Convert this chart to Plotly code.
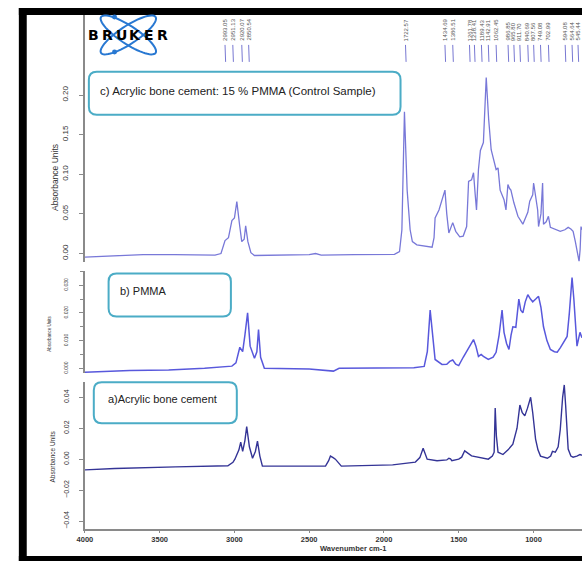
import numpy as np
import plotly.graph_objects as go

W, H = 582, 562

# ---------------- data ----------------
wn_c = [4000, 3800, 3611, 3400, 3130, 3090, 3063, 3040, 3017, 3000, 2984, 2965, 2951, 2935, 2925,
        2910, 2890, 2866, 2700, 2500, 2457, 2420, 2200, 2008, 1930, 1896, 1880, 1863, 1845, 1825,
        1810, 1780, 1700, 1678, 1665, 1658, 1632, 1600, 1592, 1580, 1566, 1540, 1520, 1493, 1470,
        1447, 1434, 1414, 1401, 1390, 1381, 1368, 1355, 1335, 1322, 1316, 1300, 1283, 1250, 1237,
        1223, 1197, 1184, 1171, 1160, 1151, 1131, 1104, 1071, 1038, 1025, 1005, 999, 985, 972,
        966, 950, 939, 933, 915, 900, 887, 850, 821, 790, 768, 750, 735, 720, 709, 695, 688, 682, 676]
abs_c = [-0.0046, -0.003, -0.0013, -0.0015, -0.002, 0.000, 0.0164, 0.020, 0.0416, 0.045, 0.0655,
         0.035, 0.015, 0.018, 0.035, 0.015, 0.001, -0.0025, -0.002, -0.0015, 0.000, -0.002, -0.0015,
         -0.0013, -0.001, 0.0025, 0.03, 0.179, 0.08, 0.03, 0.015, 0.011, 0.009, 0.008, 0.02, 0.045,
         0.055, 0.078, 0.080, 0.05, 0.026, 0.039, 0.028, 0.021, 0.022, 0.034, 0.091, 0.093, 0.102,
         0.075, 0.055, 0.106, 0.130, 0.140, 0.200, 0.222, 0.17, 0.131, 0.106, 0.108, 0.080, 0.068,
         0.055, 0.087, 0.082, 0.080, 0.064, 0.047, 0.037, 0.052, 0.066, 0.074, 0.089, 0.07, 0.055,
         0.034, 0.05, 0.089, 0.037, 0.04, 0.047, 0.033, 0.03, 0.028, 0.03, 0.033, 0.031, 0.028,
         0.015, 0.003, -0.01, 0.005, 0.034, 0.03]

wn_b = [4000, 3900, 3700, 3440, 3200, 3017, 2990, 2964, 2945, 2930, 2912, 2895, 2866, 2850, 2839,
        2825, 2800, 2500, 2338, 2300, 1942, 1800, 1731, 1710, 1691, 1675, 1658, 1612, 1580, 1560,
        1540, 1520, 1500, 1470, 1434, 1401, 1385, 1368, 1350, 1335, 1302, 1270, 1250, 1230, 1210,
        1197, 1180, 1164, 1150, 1138, 1118, 1098, 1085, 1071, 1055, 1038, 1020, 1005, 985, 966,
        950, 933, 910, 887, 860, 841, 820, 808, 775, 760, 742, 730, 709, 689, 676]
abs_b = [-0.0014, -0.0012, -0.0008, -0.0006, 0.0, 0.0008, 0.002, 0.0076, 0.006, 0.012, 0.020,
         0.008, 0.0036, 0.006, 0.014, 0.004, 0.0, -0.0002, -0.001, 0.0, 0.0, 0.0002, 0.0007, 0.006,
         0.021, 0.012, 0.0032, 0.0014, 0.0015, 0.0025, 0.003, 0.0015, 0.001, 0.004, 0.0076, 0.0104,
         0.008, 0.0043, 0.005, 0.0043, 0.0032, 0.004, 0.0058, 0.012, 0.021, 0.013, 0.009, 0.0068,
         0.012, 0.015, 0.0148, 0.025, 0.021, 0.020, 0.024, 0.0266, 0.025, 0.024, 0.025, 0.026,
         0.022, 0.015, 0.01, 0.0068, 0.006, 0.0058, 0.0075, 0.0086, 0.0115, 0.02, 0.0328, 0.025,
         0.008, 0.013, 0.011]

wn_a = [4000, 3800, 3393, 3200, 3044, 3010, 2997, 2970, 2958, 2945, 2930, 2918, 2900, 2879, 2860,
        2846, 2830, 2813, 2600, 2391, 2370, 2358, 2340, 2325, 2285, 2100, 1942, 1790, 1760, 1738,
        1725, 1711, 1645, 1580, 1566, 1555, 1546, 1500, 1480, 1460, 1414, 1350, 1302, 1275, 1263,
        1256, 1248, 1237, 1204, 1170, 1138, 1110, 1091, 1075, 1058, 1040, 1019, 1005, 986, 970,
        953, 907, 885, 873, 854, 835, 821, 805, 794, 785, 768, 750, 735, 710, 689, 676]
abs_a = [-0.0069, -0.006, -0.005, -0.0045, -0.0043, -0.002, 0.0, 0.006, 0.011, 0.005, 0.012, 0.021,
         0.008, 0.0006, 0.005, 0.0116, 0.002, -0.0045, -0.0043, -0.0045, -0.001, 0.002, 0.001, 0.0,
         -0.0045, -0.004, -0.0037, -0.0019, 0.001, 0.0071, 0.003, 0.0, -0.001, -0.0005, 0.0006,
         0.0002, -0.001, 0.0, 0.0013, 0.0054, 0.0021, 0.001, 0.0, 0.002, 0.0045, 0.033, 0.015,
         0.0045, 0.003, 0.006, 0.0097, 0.02, 0.035, 0.030, 0.028, 0.033, 0.040, 0.03, 0.013, 0.006,
         0.002, 0.0006, 0.002, 0.005, 0.0045, 0.008, 0.019, 0.04, 0.048, 0.035, 0.0065, 0.002,
         0.0013, 0.002, 0.003, 0.0025]

x_ticks = [4000, 3500, 3000, 2500, 2000, 1500, 1000]
peak_labels = ["2993.05", "2951.13", "2920.07", "2850.54", "1722.57", "1434.69", "1386.51",
               "1261.78", "1238.41", "1189.43", "1142.91", "1062.45", "986.85", "965.80",
               "911.70", "840.69", "807.56", "749.08", "702.99", "594.08", "564.64", "545.44"]
# where each peak label sits along the drawn axis
peak_label_x = [3063, 3011, 2951, 2905, 1856, 1592, 1540, 1428, 1395, 1348, 1302, 1250,
                1170, 1131, 1091, 1038, 999, 953, 900, 788, 742, 702]

title_c = "c) Acrylic bone cement: 15 % PMMA (Control Sample)"
title_b = "b) PMMA"
title_a = "a)Acrylic bone cement"


# ---------------- helpers ----------------
def px(x):
    return x / W


def py(y):
    return 1 - y / H


def rounded_box(x0, y0, x1, y1, r):
    pts = [("M", x0 + r, y0), ("L", x1 - r, y0), ("Q", x1, y0, x1, y0 + r), ("L", x1, y1 - r),
           ("Q", x1, y1, x1 - r, y1), ("L", x0 + r, y1), ("Q", x0, y1, x0, y1 - r),
           ("L", x0, y0 + r), ("Q", x0, y0, x0 + r, y0)]
    s = ""
    for p in pts:
        cmd = p[0]
        coords = p[1:]
        parts = []
        for i in range(0, len(coords), 2):
            parts.append(f"{px(coords[i]):.5f},{py(coords[i+1]):.5f}")
        s += cmd + " " + " ".join(parts) + " "
    return s + "Z"


def ellipse_path(cx, cy, a, b, ang):
    t = np.linspace(0, 2 * np.pi, 60)
    ca, sa = np.cos(np.radians(ang)), np.sin(np.radians(ang))
    xs = cx + a * np.cos(t) * ca - b * np.sin(t) * sa
    ys = cy + a * np.cos(t) * sa + b * np.sin(t) * ca
    s = "M " + " L ".join(f"{px(x):.5f},{py(y):.5f}" for x, y in zip(xs, ys)) + " Z"
    return s


# pixel calibration of the bottom axis
x_left_px = 78
per_px = 500 / 75.8
x_right_val = 4000 - (W - x_left_px) * per_px

fig = go.Figure()
fig.add_trace(go.Scatter(x=wn_c, y=abs_c, mode="lines", yaxis="y3",
                         line=dict(color="rgb(120,120,216)", width=1.3), showlegend=False))
fig.add_trace(go.Scatter(x=wn_b, y=abs_b, mode="lines", yaxis="y2",
                         line=dict(color="rgb(88,88,220)", width=1.5), showlegend=False))
fig.add_trace(go.Scatter(x=wn_a, y=abs_a, mode="lines", yaxis="y",
                         line=dict(color="rgb(52,52,150)", width=1.4), showlegend=False))

axis_grey = "#8a8a8a"
tick_font = dict(family="Liberation Sans", color="#333")

common_y = dict(showgrid=False, zeroline=False, showline=True, linecolor=axis_grey, linewidth=1.5,
                ticks="outside", tickcolor=axis_grey, ticklen=4, tickangle=-90, anchor="x")

fig.update_layout(
    width=W, height=H, autosize=False,
    margin=dict(l=0, r=0, t=0, b=0),
    paper_bgcolor="white", plot_bgcolor="white",
    xaxis=dict(domain=[px(x_left_px), 1], range=[4000, x_right_val], anchor="y",
               showgrid=False, zeroline=False, showline=True, linecolor=axis_grey, linewidth=1.5,
               ticks="outside", tickcolor=axis_grey, ticklen=2, tickvals=x_ticks,
               ticklabelstandoff=0,
               tickfont=dict(family="Liberation Sans", size=7.5, color="#333", weight="bold")),
    yaxis=dict(domain=[py(530), py(383)], range=[-0.0452, 0.0497],
               tickvals=[-0.04, -0.02, 0.0, 0.02, 0.04], tickformat=".2f", ticklabelstandoff=7,
               tickfont=dict(size=7, **tick_font), **common_y),
    yaxis2=dict(domain=[py(374), py(271)], range=[-0.0018, 0.0353],
                tickvals=[0.0, 0.01, 0.02, 0.03], tickformat=".3f", ticklabelstandoff=9,
                minor=dict(dtick=0.005, ticks="outside", ticklen=3, tickcolor=axis_grey),
                tickfont=dict(size=5, **tick_font), **common_y),
    yaxis3=dict(domain=[py(262), py(15)], range=[-0.0101, 0.301],
                tickvals=[0.0, 0.05, 0.10, 0.15, 0.20], tickformat=".2f", ticklabelstandoff=8,
                tickfont=dict(size=8, **tick_font), **common_y),
)

shapes = []
# black frame
for (x0, y0, x1, y1) in [(11, 8, 582, 15), (11, 8, 19, 562), (11, 557, 582, 562)]:
    shapes.append(dict(type="rect", xref="paper", yref="paper", x0=px(x0), x1=px(x1),
                       y0=py(y1), y1=py(y0), fillcolor="black", line=dict(width=0), layer="above"))
# label boxes
box_col = "rgb(75,172,198)"
for (x0, y0, x1, y1) in [(82, 72, 398, 115), (102, 274, 226, 317), (87, 383, 232, 424)]:
    shapes.append(dict(type="path", xref="paper", yref="paper", path=rounded_box(x0, y0, x1, y1, 8),
                       line=dict(color=box_col, width=2), fillcolor="white", layer="above"))
# Bruker atom logo
logo_blue = "rgb(40,120,210)"
for ang in (33, -33):
    shapes.append(dict(type="path", xref="paper", yref="paper", path=ellipse_path(122, 35, 33, 9, ang),
                       line=dict(color=logo_blue, width=2)))
for (cx, cy) in [(108, 17), (108, 52)]:
    shapes.append(dict(type="circle", xref="paper", yref="paper", x0=px(cx - 2.5), x1=px(cx + 2.5),
                       y0=py(cy + 2.5), y1=py(cy - 2.5), fillcolor=logo_blue, line=dict(width=0)))
# peak marker ticks
for xv in peak_label_x:
    shapes.append(dict(type="line", xref="x", yref="paper", x0=xv, x1=xv - 4, y0=py(45), y1=py(62),
                       line=dict(color="rgb(120,120,210)", width=1)))
fig.update_layout(shapes=shapes)

ann = []
# BRUKER letters
for i, ch in enumerate("BRUKER"):
    ann.append(dict(text=ch, xref="paper", yref="paper", x=px(87 + i * 14), y=py(35),
                    showarrow=False, xanchor="center", yanchor="middle",
                    font=dict(family="DejaVu Sans", size=14, color="black", weight="bold")))
# peak labels
for lab, xv in zip(peak_labels, peak_label_x):
    ann.append(dict(text=lab, xref="x", yref="paper", x=xv, y=py(43), textangle=-90,
                    showarrow=False, xanchor="center", yanchor="bottom",
                    font=dict(family="Liberation Sans", size=6, color="#555")))
# box texts
for txt, x0, yc, fs in [(title_c, 91, 91, 11.5), (title_b, 112, 292, 11), (title_a, 99, 400, 11)]:
    ann.append(dict(text=txt, xref="paper", yref="paper", x=px(x0), y=py(yc), showarrow=False,
                    xanchor="left", yanchor="middle",
                    font=dict(family="Liberation Sans", size=fs, color="#222")))
# axis titles
for xc, yc, fs in [(47, 178, 8.5), (42, 334, 4.5), (45, 457, 6.5)]:
    ann.append(dict(text="Absorbance Units", xref="paper", yref="paper", x=px(xc), y=py(yc),
                    textangle=-90, showarrow=False, xanchor="center", yanchor="middle",
                    font=dict(family="Liberation Sans", size=fs, color="#333")))
ann.append(dict(text="Wavenumber cm-1", xref="paper", yref="paper", x=px(350), y=py(549),
                showarrow=False, xanchor="center", yanchor="middle",
                font=dict(family="Liberation Sans", size=7.5, color="#333", weight="bold")))
fig.update_layout(annotations=ann)

post = ("document.body.style.margin='0px';document.body.style.padding='0px';"
        "document.body.style.overflow='hidden';"
        "var gd=document.getElementById('{plot_id}');"
        "gd.style.position='absolute';gd.style.left='0px';gd.style.top='0px';"
        "Plotly.relayout(gd,{width:582,height:562});")
fig.write_html("out.html", config={"displayModeBar": False, "responsive": False},
               post_script=post)
